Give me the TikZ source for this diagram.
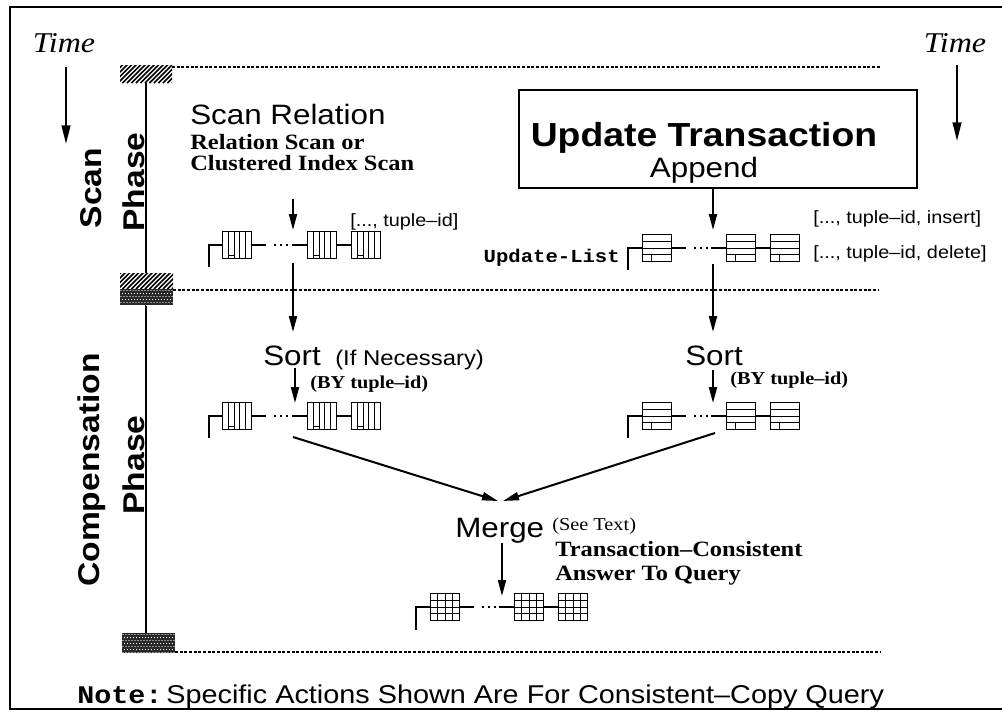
\documentclass[tikz,border=0pt]{standalone}
\usepackage{fontspec}
\setmainfont{Liberation Serif}[FakeStretch=1.12]
\setsansfont{Liberation Sans}[FakeStretch=1.12]
\setmonofont{Liberation Mono}[FakeStretch=1.12]
\usetikzlibrary{arrows.meta,calc}

% font shortcuts
\newcommand\fTime{\rmfamily\itshape\fontsize{21.5pt}{21.5pt}\selectfont}
\newcommand\fBig{\sffamily\fontsize{21pt}{21pt}\selectfont}
\newcommand\fHead{\sffamily\bfseries\fontsize{25pt}{25pt}\selectfont}
\newcommand\fMid{\sffamily\fontsize{16pt}{16pt}\selectfont}
\newcommand\fTup{\sffamily\fontsize{13.3pt}{13.3pt}\selectfont}
\newcommand\fBser{\rmfamily\bfseries\fontsize{16.4pt}{16.4pt}\selectfont}
\newcommand\fSmser{\rmfamily\bfseries\fontsize{13.6pt}{13.6pt}\selectfont}
\newcommand\fSee{\rmfamily\fontsize{13.6pt}{13.6pt}\selectfont}
\newcommand\fPhase{\sffamily\bfseries\fontsize{22.5pt}{22.5pt}\selectfont}
\newcommand\fCode{\ttfamily\bfseries\fontsize{13.8pt}{13.8pt}\selectfont}
\newcommand\fNote{\ttfamily\bfseries\fontsize{19pt}{19pt}\selectfont}
\newcommand\fNoteS{\sffamily\fontsize{19.3pt}{19.3pt}\selectfont}

% diagonal hatching inside a rectangle: x1 y1 x2 y2
\newcommand\hatchfill[4]{%
  \fill[white] (#1,#2) rectangle (#3,#4);
  \begin{scope}
    \clip (#1,#2) rectangle (#3,#4);
    \foreach \i in {0,...,17}
      \draw[line width=1.1pt] ({#1+\i*4.5-20},#4) -- ++(20,-20);
  \end{scope}}
% dense dark screen inside a rectangle: x1 y1 x2 y2
\newcommand\densefill[4]{%
  \fill[black!85] (#1,#2) rectangle (#3,#4);
  \begin{scope}
    \clip (#1,#2) rectangle (#3,#4);
    \foreach \i in {0,...,18}
      \foreach \j in {0,...,7}
        \fill[white] ({#1+1+\i*3+mod(\j,2)*1.5},{#2+1.5+\j*3}) circle (0.5pt);
  \end{scope}}

\begin{document}
\begin{tikzpicture}[x=0.75pt,y=-0.75pt,
  lbl/.style={inner sep=0pt, anchor=base west},
  arr/.style={line width=1.5pt, -{Triangle[length=12pt,width=6pt]}},
  lk/.style={line width=1.1pt},
  dt/.style={line width=1.1pt, dash pattern=on 0.9pt off 3.6pt},
  dl/.style={line width=1pt, dash pattern=on 2.3pt off 1.2pt},
  box/.style={draw, line width=1.4pt, inner sep=0pt, fill=white,
    minimum width=21.75pt, minimum height=20.25pt},
  vrec/.style={box, path picture={
    \foreach \fr in {0.2,0.4,0.6,0.8}
      \draw[line width=0.7pt]
        ($(path picture bounding box.north west)!\fr!(path picture bounding box.north east)$) --
        ($(path picture bounding box.south west)!\fr!(path picture bounding box.south east)$);
    \draw[line width=0.7pt]
        ($(path picture bounding box.south west)!0.2!(path picture bounding box.south east)+(0,-3)$) --
        ($(path picture bounding box.south west)!0.4!(path picture bounding box.south east)+(0,-3)$);}},
  hrec/.style={box, path picture={
    \foreach \fr in {0.25,0.5,0.75}
      \draw[line width=0.7pt]
        ($(path picture bounding box.north west)!\fr!(path picture bounding box.south west)$) --
        ($(path picture bounding box.north east)!\fr!(path picture bounding box.south east)$);
    \draw[line width=0.7pt]
        ($(path picture bounding box.south west)!0.3!(path picture bounding box.south east)$) -- ++(0,-6.5);}},
  grec/.style={box, path picture={
    \foreach \fr in {0.25,0.5,0.75}{
      \draw[line width=0.7pt]
        ($(path picture bounding box.north west)!\fr!(path picture bounding box.south west)$) --
        ($(path picture bounding box.north east)!\fr!(path picture bounding box.south east)$);
      \draw[line width=0.7pt]
        ($(path picture bounding box.north west)!\fr!(path picture bounding box.north east)$) --
        ($(path picture bounding box.south west)!\fr!(path picture bounding box.south east)$);}}},
  phase/.style={font=\fPhase, inner sep=0pt, rotate=90}
]
\useasboundingbox (0,0) rectangle (1002,711);

% outer frame
\draw[line width=1.1pt] (1002,7) -- (10,7) -- (10,709) -- (1002,709);

% time direction markers
\node[inner sep=0pt, anchor=base, font=\fTime] (timeL) at (64,52) {Time};
\node[inner sep=0pt, anchor=base, font=\fTime] (timeR) at (955,52) {Time};
\coordinate (tlA) at (66,67);  \coordinate (tlB) at (66,144);
\coordinate (trA) at (957,65); \coordinate (trB) at (957,141);
\draw[line width=1.5pt, -{Triangle[length=14pt,width=6.5pt]}] (tlA) -- (tlB);
\draw[line width=1.5pt, -{Triangle[length=14pt,width=6.5pt]}] (trA) -- (trB);

% time line with phase boundaries
\draw[line width=1.1pt] (146,80) -- (146,636);
\hatchfill{120}{65}{172}{83}
\hatchfill{120}{273}{173}{289}
\densefill{120}{289}{173}{305}
\densefill{122}{633}{175}{653}
\draw[dl] (172,67) -- (880,67);
\draw[dl] (173,290) -- (878,290);
\draw[dl] (175,652) -- (880,652);

% phase names
\node[phase] (scanW)  at (91,188) {Scan};
\node[phase] (phaseA) at (134,182) {Phase};
\node[phase] (compW)  at (92,470) {Compensation};
\node[phase] (phaseB) at (134,465) {Phase};

% ---------- scan side ----------
\node[lbl, font=\fBig] (scanrel) at (190,124) {Scan Relation};
\node[lbl, font=\fBser] (rscan) at (190,149) {Relation Scan or};
\node[lbl, font=\fBser] (cscan) at (190,170) {Clustered Index Scan};
\coordinate (a1s) at (293,199); \coordinate (a1e) at (293,230);
\draw[arr] (a1s) -- (a1e);

\node[vrec] (s1) at (237,245) {};
\node[vrec] (s2) at (322,245) {};
\node[vrec] (s3) at (366,245) {};
\coordinate (sb) at (209,267);
\draw[lk] (sb) |- (s1.west);
\draw[lk] (s1.east) -- ++(14,0);
\draw[dt] ($(s1.east)+(22,0)$) -- ($(s2.west)+(-17,0)$);
\draw[lk] (s2.west) -- ++(-15,0);
\draw[lk] (s2.east) -- (s3.west);
\node[lbl, font=\fTup] (tupS) at (350,226) {[..., tuple–id]};

\coordinate (a2s) at (293,263); \coordinate (a2e) at (293,332);
\draw[arr] (a2s) -- (a2e);

\node[lbl, font=\fBig] (sortL) at (263,365) {Sort};
\node[lbl, font=\fMid] (ifnec) at (335,365) {(If Necessary)};
\coordinate (a3s) at (295,368); \coordinate (a3e) at (295,403);
\draw[arr] (a3s) -- (a3e);
\node[lbl, font=\fSmser] (byL) at (310,388) {(BY tuple–id)};

\node[vrec] (t1) at (237,416) {};
\node[vrec] (t2) at (322,416) {};
\node[vrec] (t3) at (366,416) {};
\coordinate (tb) at (209,438);
\draw[lk] (tb) |- (t1.west);
\draw[lk] (t1.east) -- ++(14,0);
\draw[dt] ($(t1.east)+(22,0)$) -- ($(t2.west)+(-17,0)$);
\draw[lk] (t2.west) -- ++(-15,0);
\draw[lk] (t2.east) -- (t3.west);

% ---------- update side ----------
\node[draw, line width=1.3pt, inner sep=0pt, minimum width=298.5pt,
      minimum height=73.5pt] (ubox) at (718,139) {};
\node[inner sep=0pt, anchor=base, font=\fHead] (utx) at (704,146) {Update Transaction};
\node[inner sep=0pt, anchor=base, font=\fBig]  (app) at (704,177) {Append};
\coordinate (a4e) at (713,230);
\draw[arr] (ubox.south -| a4e) -- (a4e);

\node[hrec] (u1) at (657,248) {};
\node[hrec] (u2) at (741,248) {};
\node[hrec] (u3) at (785,248) {};
\coordinate (ub) at (628,270);
\draw[lk] (ub) |- (u1.west);
\draw[lk] (u1.east) -- ++(14,0);
\draw[dt] ($(u1.east)+(22,0)$) -- ($(u2.west)+(-17,0)$);
\draw[lk] (u2.west) -- ++(-15,0);
\draw[lk] (u2.east) -- (u3.west);
\node[inner sep=0pt, anchor=base east, font=\fCode] (ulist) at (620,262) {Update-List};
\node[lbl, font=\fTup] (tupI) at (813,223) {[..., tuple–id, insert]};
\node[lbl, font=\fTup] (tupD) at (813,258) {[..., tuple–id, delete]};

\coordinate (a5s) at (713,264); \coordinate (a5e) at (713,332);
\draw[arr] (a5s) -- (a5e);

\node[inner sep=0pt, anchor=base, font=\fBig] (sortR) at (714,365) {Sort};
\coordinate (a6s) at (713,370); \coordinate (a6e) at (713,403);
\draw[arr] (a6s) -- (a6e);
\node[lbl, font=\fSmser] (byR) at (730,384) {(BY tuple–id)};

\node[hrec] (v1) at (657,416) {};
\node[hrec] (v2) at (741,416) {};
\node[hrec] (v3) at (785,416) {};
\coordinate (vb) at (628,438);
\draw[lk] (vb) |- (v1.west);
\draw[lk] (v1.east) -- ++(14,0);
\draw[dt] ($(v1.east)+(22,0)$) -- ($(v2.west)+(-17,0)$);
\draw[lk] (v2.west) -- ++(-15,0);
\draw[lk] (v2.east) -- (v3.west);

% ---------- merge ----------
\coordinate (mls) at (293,437); \coordinate (mle) at (498,501);
\coordinate (mrs) at (715,433); \coordinate (mre) at (503,501);
\draw[arr] (mls) -- (mle);
\draw[arr] (mrs) -- (mre);

\node[lbl, font=\fBig] (merge) at (455,537) {Merge};
\node[lbl, font=\fSee] (see)   at (552,530) {(See Text)};
\node[lbl, font=\fBser] (tcons) at (555,556) {Transaction–Consistent};
\node[lbl, font=\fBser] (ansq)  at (555,580) {Answer To Query};
\coordinate (a7s) at (502,543); \coordinate (a7e) at (502,596);
\draw[arr] (a7s) -- (a7e);

\node[grec] (m1) at (445,607) {};
\node[grec] (m2) at (529,607) {};
\node[grec] (m3) at (573,607) {};
\coordinate (mb) at (416,630);
\draw[lk] (mb) |- (m1.west);
\draw[lk] (m1.east) -- ++(14,0);
\draw[dt] ($(m1.east)+(22,0)$) -- ($(m2.west)+(-17,0)$);
\draw[lk] (m2.west) -- ++(-15,0);
\draw[lk] (m2.east) -- (m3.west);

% footnote
\node[lbl] (note) at (77,703)
  {{\fNote Note:}\hspace{3pt}{\fNoteS Specific Actions Shown Are For Consistent–Copy Query}};
\end{tikzpicture}
\end{document}
